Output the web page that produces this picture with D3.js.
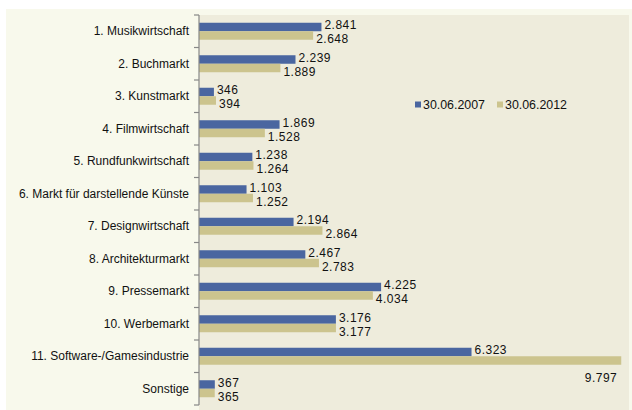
<!DOCTYPE html>
<html><head><meta charset="utf-8">
<script src="https://cdn.jsdelivr.net/npm/d3@7"></script>
<style>body{margin:0;background:#fff}svg{display:block}text{font-family:"Liberation Sans",Arial,sans-serif}</style>
</head><body><svg id="c" width="632" height="410"></svg>
<script>
const categories = ["1. Musikwirtschaft","2. Buchmarkt","3. Kunstmarkt","4. Filmwirtschaft","5. Rundfunkwirtschaft","6. Markt für darstellende Künste","7. Designwirtschaft","8. Architekturmarkt","9. Pressemarkt","10. Werbemarkt","11. Software-/Gamesindustrie","Sonstige"];
const seriesNames = ["30.06.2007","30.06.2012"];
const values2007 = [2841,2239,346,1869,1238,1103,2194,2467,4225,3176,6323,367];
const values2012 = [2648,1889,394,1528,1264,1252,2864,2783,4034,3177,9797,365];
const colors = ["#4A66A0","#CCC48E"];

const svg = d3.select("#c");
svg.append("rect").attr("x",6).attr("y",9).attr("width",626).attr("height",401).attr("fill","#F8F9EC");
const L=199,R=630,T=15,B=405;
svg.append("rect").attr("x",L).attr("y",T).attr("width",R-L-1).attr("height",410-T).attr("fill","#EEECDC");

const x = d3.scaleLinear().domain([0,10000]).range([L,R]);
const y = d3.scaleBand().domain(categories).range([T,B]);
const inner = d3.scaleBand().domain(seriesNames).range([0,17]);
const off = (y.bandwidth()-17)/2;

const fmt = v => d3.format(",")(v).replace(/,/g,".");
const data = categories.map((c,i)=>({c, vals:[values2007[i],values2012[i]]}));

const g = svg.append("g");
data.forEach(d=>{
  d.vals.forEach((v,j)=>{
    const by = y(d.c)+off+inner(seriesNames[j]);
    g.append("rect").attr("x",x(0)).attr("y",by).attr("width",x(v)-x(0)).attr("height",inner.bandwidth())
      .attr("fill",colors[j]);
    const over = x(v)+30 > R;
    const t = g.append("text").attr("font-size",12).attr("letter-spacing",0.5).attr("fill","#111")
      .attr("dominant-baseline","central");
    if(over){
      t.attr("x",x(v)-4).attr("y",by+inner.bandwidth()+13).attr("text-anchor","end");
    } else {
      t.attr("x",x(v)+3).attr("y",by+inner.bandwidth()/2+(j===0?-2:3.5)).attr("text-anchor","start");
    }
    t.text(fmt(v));
  });
});

const ax = svg.append("g").attr("transform",`translate(${L},0)`)
  .call(d3.axisLeft(y).tickSize(0).tickPadding(10));
ax.select(".domain").remove();
ax.selectAll("text").attr("font-size",12).attr("fill","#111").attr("font-family","Liberation Sans, Arial, sans-serif");
svg.append("line").attr("x1",L).attr("x2",L).attr("y1",T).attr("y2",B).attr("stroke","#888").attr("stroke-width",1.2);
const bounds = categories.map(c=>y(c)).concat([B]);
svg.selectAll(".bt").data(bounds).enter().append("line")
  .attr("x1",L-5).attr("x2",L).attr("y1",d=>d).attr("y2",d=>d).attr("stroke","#888").attr("stroke-width",1.2);

const lg = svg.append("g");
const lx=[415,497];
seriesNames.forEach((s,j)=>{
  lg.append("rect").attr("x",lx[j]).attr("y",101.5).attr("width",6).attr("height",6).attr("fill",colors[j]);
  lg.append("text").attr("x",lx[j]+8).attr("y",104.5).attr("dominant-baseline","central")
    .attr("font-size",12.4).attr("fill","#111").text(s);
});
</script></body></html>
